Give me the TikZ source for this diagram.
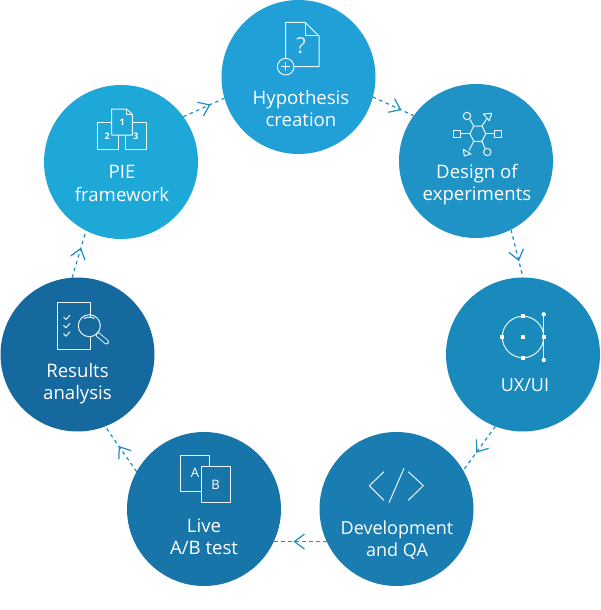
\documentclass[tikz,border=0pt]{standalone}
\usepackage{fontspec}
\setmainfont{Open Sans}
\usetikzlibrary{arrows.meta,decorations.markings}
\definecolor{chyp}{HTML}{219FD7}
\definecolor{cpie}{HTML}{1DA8D8}
\definecolor{cdes}{HTML}{2093C6}
\definecolor{cuxu}{HTML}{1A8ABD}
\definecolor{cdev}{HTML}{197DB2}
\definecolor{cliv}{HTML}{1775A9}
\definecolor{cres}{HTML}{15699E}
\definecolor{cflow}{HTML}{2490C4}
\tikzset{
  disc/.style={circle,minimum size=154pt,inner sep=0pt,outer sep=0pt,draw=none,fill=#1},
  caption/.style={text=white,align=center,inner sep=0pt,font=\fontsize{18.6}{22.4}\selectfont},
  flow/.style={draw=cflow,line width=1.25pt,dash pattern=on 3.5pt off 3.5pt,
    postaction={decorate,decoration={markings,mark=at position #1 with
      {\arrow[cflow,line width=1.25pt]{Straight Barb[length=10pt,width=15pt]}}}}},
  icon/.style={draw=white,line width=1pt,line join=round,opacity=0.92},
  small/.style={text=white,inner sep=0pt,font=\fontsize{#1}{#1}\selectfont},
  dot/.style={fill=white,draw=none}
}
\begin{document}
\begin{tikzpicture}[x=1pt,y=-1pt]
\useasboundingbox (0,0) rectangle (600,610);
% discs
\node[disc=chyp] (hyp) at (298.5,77) {};
\node[disc=cdes] (des) at (476,161) {};
\node[disc=cuxu] (uxu) at (523,354.5) {};
\node[disc=cdev] (dev) at (396.5,509) {};
\node[disc=cliv] (liv) at (204,509) {};
\node[disc=cres] (res) at (77.5,354.5) {};
\node[disc=cpie] (pie) at (121,162) {};
% captions
\node[caption] (thyp) at (301,108.5) {Hypothesis\\creation};
\node[caption] (tdes) at (477,184.5) {Design of\\experiments};
\node[caption,font=\fontsize{18}{22.4}\selectfont] (tuxu) at (525,385.5) {UX/UI};
\node[caption,font=\fontsize{18}{22.4}\selectfont] (tdev) at (397,540) {Development\\and QA};
\node[caption] (tliv) at (204,536.8) {Live\\A/B test};
\node[caption] (tres) at (77.5,383.5) {Results\\analysis};
\node[caption] (tpie) at (122,183.5) {PIE\\framework};
% connectors
\path[flow=0.70] (hyp.-15) -- (des.144.5);
\path[flow=0.66] (des.-63.7) -- (uxu.90);
\path[flow=0.60] (uxu.-111) -- (dev.30);
\path[flow=0.63] (dev.205) -- (liv.-25);
\path[flow=0.57] (liv.151) -- (res.-69);
\path[flow=0.64] (res.94) -- (pie.-117);
\path[flow=0.66] (pie.36.6) -- (hyp.196.7);
% hypothesis icon
\draw[icon] (285.7,59) -- (285.7,22.3) -- (305,22.3) -- (319,36) -- (319,66.7) -- (294,66.7);
\draw[icon] (305,22.3) -- (305,36) -- (319,36);
\draw[icon] (285.7,66.7) circle[radius=8.3];
\draw[icon] (281,66.7) -- (290.4,66.7) (285.7,62) -- (285.7,71.4);
\node[small=22,opacity=0.8] (qm) at (301,46) {?};
% PIE icon
\draw[icon] (111.7,122.3) -- (97.3,122.3) -- (97.3,149) -- (118,149) -- (118,135);
\draw[icon] (132.3,122.3) -- (146.3,122.3) -- (146.3,149) -- (125.7,149) -- (125.7,135);
\draw[icon] (111.7,135) -- (111.7,109) -- (126.7,109) -- (132.3,114.3) -- (132.3,135) -- cycle;
\draw[icon] (126.7,109) -- (126.7,114.3) -- (132.3,114.3);
\node[small=9] (n1) at (122.3,122.5) {\bfseries 1};
\node[small=9] (n2) at (107.3,136) {\bfseries 2};
\node[small=9] (n3) at (136,136) {\bfseries 3};
% experiments icon
\draw[icon] (470,133.7) -- (473.7,126) -- (482,126) -- (485.7,133.7) -- (482,141.3) -- (473.7,141.3) -- cycle;
\draw[icon] (470,133.7) -- (460,133.7) (485.7,133.7) -- (494.3,133.7);
\draw[icon] (473.7,126) -- (470,119.5) (482,126) -- (486.5,119) (473.7,141.3) -- (469,150.5) (482,141.3) -- (485,148.5);
\draw[icon] (453.3,130.4) rectangle (460,137);
\draw[icon] (494.3,130.4) rectangle (501.3,137);
\draw[icon] (467,116) circle[radius=3.7];
\draw[icon] (487.3,152) circle[radius=3.7];
\draw[icon] (483.3,114) -- (491.7,113.3) -- (489.3,120.7) -- cycle;
\draw[icon] (463.3,149.3) -- (471,154) -- (464.3,156) -- cycle;
% UX icon
\draw[icon] (523,337) circle[radius=20.7];
\draw[icon] (543.7,314.3) -- (543.7,360);
\fill[dot] (543.7,314.3) circle[radius=2.2];
\fill[dot] (543.7,360) circle[radius=2.2];
\fill[dot] (521,335) rectangle (525,339);
\fill[dot] (521,314.3) rectangle (525,318.3);
\fill[dot] (521,355.7) rectangle (525,359.7);
\fill[dot] (500.3,335) rectangle (504.3,339);
\fill[dot] (541.7,335) rectangle (545.7,339);
% code icon
\draw[icon] (384,471.7) -- (369.3,485.7) -- (384,500.3);
\draw[icon] (408.3,471.7) -- (423.3,485.7) -- (408.3,500.3);
\draw[icon] (404,468.3) -- (389,502.7);
% A/B icon
\draw[icon] (180.3,455.3) rectangle (209.3,491);
\draw[icon,fill=cliv,fill opacity=1] (201.3,466.7) rectangle (230,502.3);
\node[small=13] (la) at (195,473.3) {A};
\node[small=13] (lb) at (215.5,485) {B};
% results icon
\draw[icon] (90,316.5) -- (90,302.7) -- (57.3,302.7) -- (57.3,349.3) -- (90,349.3) -- (90,337.3);
\draw[icon] (63.5,317) -- (66,319.5) -- (70,315);
\draw[icon] (63.5,325.3) -- (66,327.8) -- (70,323.3);
\draw[icon] (63.5,333.7) -- (66,336.2) -- (70,331.7);
\draw[icon] (89.3,325.7) circle[radius=11];
\draw[icon] (84,318.5) .. controls (87,316.8) and (91,316.8) .. (94.5,318.5);
\draw[line width=5pt,white,line cap=round,opacity=0.92] (98,334.7) -- (106.5,342);
\draw[line width=3.2pt,cres,line cap=round] (98,334.7) -- (106.5,342);
\end{tikzpicture}
\end{document}
